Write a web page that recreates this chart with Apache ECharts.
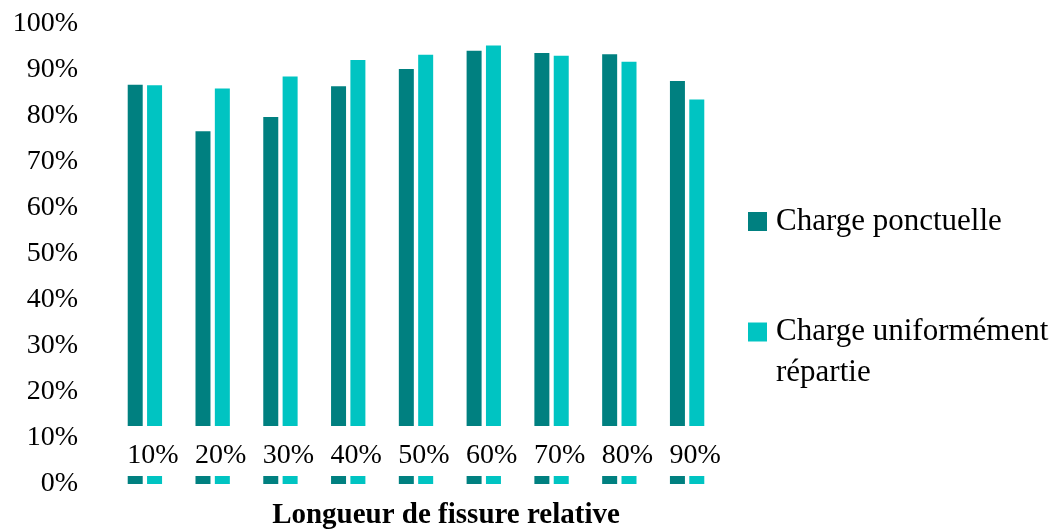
<!DOCTYPE html>
<html>
<head>
<meta charset="utf-8">
<script src="https://cdn.jsdelivr.net/npm/echarts@6/dist/echarts.min.js"></script>
<style>
  html, body { margin: 0; padding: 0; background: #fff; }
  #chart { width: 1059px; height: 529px; }
</style>
</head>
<body>
<div id="chart"></div>
<script>
// Relative crack length categories
const categories = ['10%', '20%', '30%', '40%', '50%', '60%', '70%', '80%', '90%'];
// Values (%) per load case
const pointLoad = [86.7, 76.6, 79.7, 86.4, 90.1, 94.1, 93.6, 93.3, 87.5];
const uniformLoad = [86.6, 85.9, 88.5, 92.1, 93.2, 95.2, 93.0, 91.7, 83.5];
const seriesNames = ['Charge ponctuelle', 'Charge uniformément\nrépartie'];
const axisTitle = 'Longueur de fissure relative';

const FONT = '"Liberation Serif", "DejaVu Serif", serif';
const DARK = '#008080';
const LIGHT = '#00C4C2';

const chart = echarts.init(document.getElementById('chart'), null, { renderer: 'canvas' });

chart.setOption({
  animation: false,
  backgroundColor: '#ffffff',
  grid: {
    left: 111, right: 338, top: 23.5, bottom: 45,
    containLabel: false,
    outerBoundsMode: 'none'
  },
  legend: {
    orient: 'vertical',
    left: 748,
    top: 200,
    padding: 0,
    itemWidth: 19,
    itemHeight: 19,
    itemGap: 26.5,
    icon: 'rect',
    // a two-line entry keeps its first line level with the swatch
    formatter: function (name) {
      return name.indexOf('\n') >= 0 ? ' \n' + name : name;
    },
    textStyle: { fontFamily: FONT, fontSize: 31, lineHeight: 41, color: '#000', padding: [2, 0, 0, 4] },
    data: seriesNames
  },
  xAxis: {
    type: 'category',
    data: categories,
    z: 5,
    name: axisTitle,
    nameLocation: 'middle',
    nameGap: 18,
    nameTextStyle: {
      fontFamily: FONT, fontSize: 29, fontWeight: 'bold', color: '#000',
      lineHeight: 28, padding: [0, 0, 0, 60]
    },
    axisLine: { show: false },
    axisTick: { show: false },
    axisLabel: {
      interval: 0,
      margin: -58,
      fontFamily: FONT,
      fontSize: 28,
      lineHeight: 28,
      color: '#000',
      backgroundColor: '#fff',
      padding: [16, 0, 6, 16]
    }
  },
  yAxis: {
    type: 'value',
    min: 0,
    max: 100,
    interval: 10,
    axisLine: { show: false },
    axisTick: { show: false },
    splitLine: { show: false },
    axisLabel: {
      margin: 33,
      fontFamily: FONT,
      fontSize: 28,
      color: '#000',
      padding: [3, 0, 0, 0],
      formatter: '{value}%'
    }
  },
  series: [
    {
      name: seriesNames[0],
      type: 'bar',
      data: pointLoad,
      barWidth: 15,
      barGap: '29%',
      itemStyle: { color: DARK }
    },
    {
      name: seriesNames[1],
      type: 'bar',
      data: uniformLoad,
      barWidth: 15,
      barGap: '29%',
      itemStyle: { color: LIGHT }
    }
  ]
});
</script>
</body>
</html>
